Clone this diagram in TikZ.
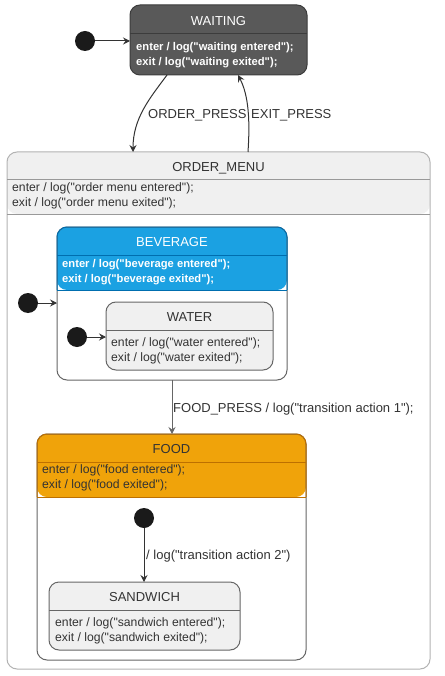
\documentclass[tikz,border=0pt]{standalone}
\usepackage{fontspec}
\setmainfont{Liberation Sans}[Ligatures=TeXOff]
\usetikzlibrary{arrows.meta}
\definecolor{dk}{HTML}{595959}
\definecolor{dkline}{HTML}{3C3C3C}
\definecolor{lg}{HTML}{F0F0F0}
\definecolor{bl}{HTML}{1BA1E2}
\definecolor{blline}{HTML}{006EAF}
\definecolor{og}{HTML}{F0A30A}
\definecolor{ogline}{HTML}{BD7000}
\definecolor{gline}{HTML}{666666}
\definecolor{omline}{HTML}{B3B3B3}
\definecolor{omdiv}{HTML}{999999}
\definecolor{dotc}{HTML}{1A1A1A}
\definecolor{ink}{HTML}{333333}
\tikzset{
  box/.style={draw, rounded corners=10pt, inner sep=0pt, outer sep=0pt, line width=1pt},
  ttl/.style={inner sep=0pt, font=\fontsize{13}{16}\selectfont, text height=9.5pt, text depth=0pt, text=ink},
  txt/.style={inner sep=0pt, anchor=west, align=left, font=\fontsize{12.2}{15}\selectfont, text=ink},
  txtb/.style={txt, font=\fontsize{11.2}{15}\selectfont\bfseries, text=white},
  lbl/.style={inner sep=0pt, anchor=west, font=\fontsize{13}{16}\selectfont, text height=9.5pt, text depth=0pt, text=ink},
  initdot/.style={circle, fill=dotc, minimum size=20pt, inner sep=0pt},
  arr/.style={draw=ink, line width=1pt, -{Stealth[length=7pt,width=7pt,inset=2.5pt]}},
  divline/.style={line width=1pt},
}
\begin{document}
\begin{tikzpicture}[x=1pt,y=-1pt]
\useasboundingbox[fill=white] (0,0) rectangle (444,676);

% ORDER_MENU
\node[box, draw=omline, fill=white, minimum width=423pt, minimum height=517pt,
  path picture={\fill[lg] (path picture bounding box.north west) rectangle ([yshift=-62pt]path picture bounding box.north east);}]
  (om) at (218.5,410.5) {};
\draw[divline, omdiv] (7,180) -- (430,180);
\draw[divline, omdiv] (7,214) -- (430,214);
\node[ttl] (omT) at (218.5,167) {ORDER\_MENU};
\node[txt] (omX) at (12,196) {enter / log("order menu entered");\\exit / log("order menu exited");};

% WAITING
\node[box, fill=dk, draw=dkline, minimum width=177pt, minimum height=70pt] (waiting) at (218.5,40) {};
\draw[divline, dkline] (130,34) -- (307,34);
\node[ttl, text=white] (waitingT) at (218.5,21) {WAITING};
\node[txtb] (waitingX) at (136,55) {enter / log("waiting entered");\\exit / log("waiting exited");};

% BEVERAGE
\node[box, draw=gline, fill=white, minimum width=230pt, minimum height=153pt,
  path picture={\fill[bl] (path picture bounding box.north west) rectangle ([yshift=-63pt]path picture bounding box.north east);}]
  (bev) at (172,303.5) {};
\draw[divline, blline, rounded corners=10pt] (57,290) -- (57,227) -- (287,227) -- (287,290);
\draw[divline, blline] (57,255) -- (287,255);
\draw[divline, blline] (57,290) -- (287,290);
\node[ttl, text=white] (bevT) at (172,242) {BEVERAGE};
\node[txtb] (bevX) at (62,272) {enter / log("beverage entered");\\exit / log("beverage exited");};

% WATER
\node[box, draw=gline, fill=lg, minimum width=167pt, minimum height=68pt] (water) at (189.5,336) {};
\draw[divline, gline] (106,330) -- (273,330);
\node[ttl] (waterT) at (189.5,317) {WATER};
\node[txt] (waterX) at (111,351) {enter / log("water entered");\\exit / log("water exited");};

% FOOD
\node[box, draw=gline, fill=white, minimum width=269pt, minimum height=226pt,
  path picture={\fill[og] (path picture bounding box.north west) rectangle ([yshift=-63pt]path picture bounding box.north east);}]
  (food) at (171.5,547) {};
\draw[divline, ogline, rounded corners=10pt] (37,497) -- (37,434) -- (306,434) -- (306,497);
\draw[divline, ogline] (37,462) -- (306,462);
\draw[divline, ogline] (37,497) -- (306,497);
\node[ttl] (foodT) at (171.5,449) {FOOD};
\node[txt] (foodX) at (42,478) {enter / log("food entered");\\exit / log("food exited");};

% SANDWICH
\node[box, draw=gline, fill=lg, minimum width=191pt, minimum height=68pt] (sand) at (144.5,616) {};
\draw[divline, gline] (49,610) -- (240,610);
\node[ttl] (sandT) at (144.5,597) {SANDWICH};
\node[txt] (sandX) at (55,631) {enter / log("sandwich entered");\\exit / log("sandwich exited");};

% initial states
\node[initdot] (i1) at (85,41) {};
\node[initdot] (i2) at (28,303) {};
\node[initdot] (i3) at (77,337) {};
\node[initdot] (i4) at (144,518) {};

% connectors
\draw[arr] (i1) -- (waiting.west |- i1);
\draw[arr] (i2) -- (bev.west |- i2);
\draw[arr] (i3) -- (water.west |- i3);
\draw[arr] (i4) -- (i4 |- sand.north);
\draw[arr] ([xshift=37pt]waiting.south west) .. controls (150,98) and (133,118) .. ([xshift=126pt]om.north west);
\draw[arr] ([xshift=241pt]om.north west) .. controls (250,122) and (249,96) .. ([xshift=108pt]waiting.south west);
\draw[arr, draw=gline] (bev.south) -- (bev.south |- food.north);

% labels
\node[lbl] (l1) at (148,114) {ORDER\_PRESS};
\node[lbl] (l2) at (251,114) {EXIT\_PRESS};
\node[lbl] (l3) at (173,408) {FOOD\_PRESS / log("transition action 1");};
\node[lbl] (l4) at (146,555) {/ log("transition action 2")};
\end{tikzpicture}
\end{document}
